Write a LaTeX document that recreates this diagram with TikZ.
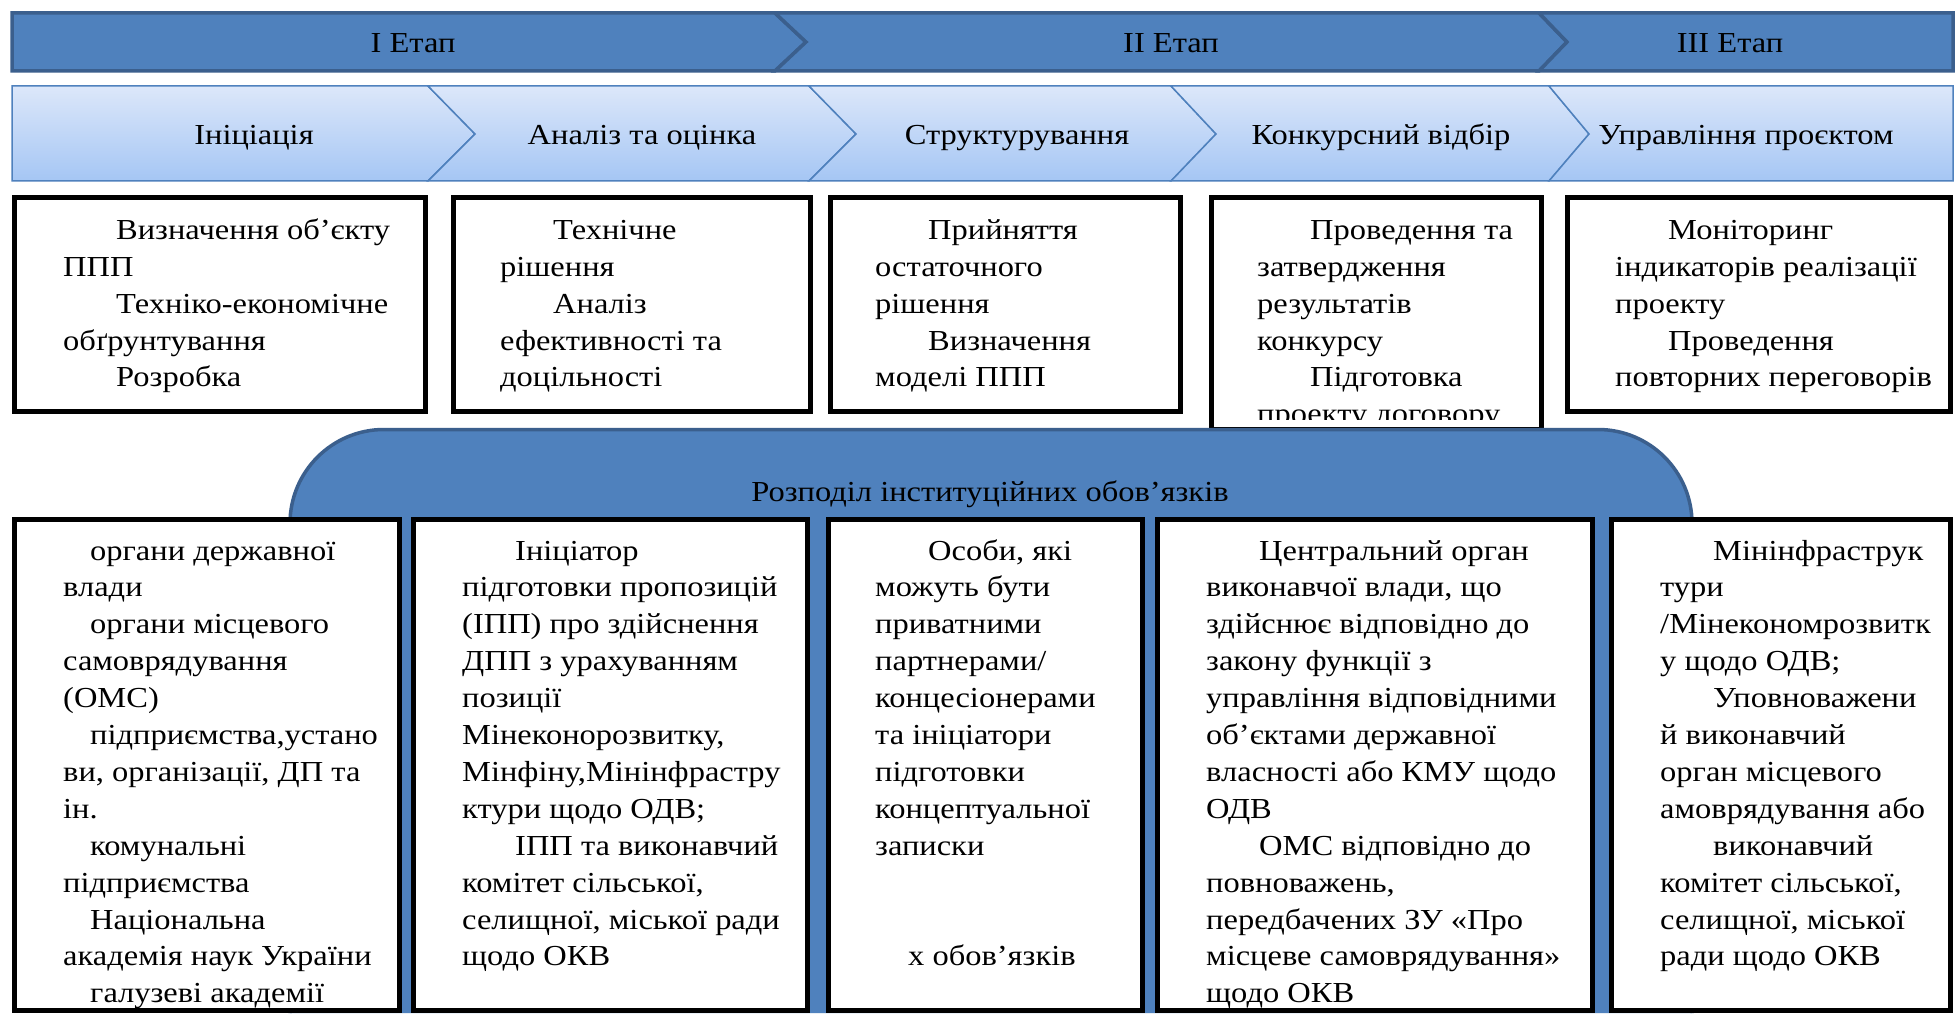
\documentclass[tikz,border=0pt]{standalone}
\usepackage{fontspec}
\setmainfont{Liberation Serif}[FakeStretch=1.12]
\definecolor{bandblue}{HTML}{4F81BD}
\definecolor{bandedge}{HTML}{3B5F8D}
\definecolor{lighttop}{HTML}{DCE7FA}
\definecolor{lightbot}{HTML}{A5C6F4}
\newcommand\Ind{\hspace*{53pt}}
\begin{document}
\begin{tikzpicture}[x=1pt,y=-1pt,
  darkseg/.style={fill=bandblue, draw=bandedge, line width=3.5pt, line join=miter},
  lightseg/.style={top color=lighttop, bottom color=lightbot, draw=bandblue, line width=1.5pt},
  boxst/.style={draw=black, line width=5pt, fill=white},
  lbl/.style={font=\fontsize{29}{36}\selectfont, inner sep=0pt, anchor=base},
  txt/.style={font=\fontsize{29}{36.7}\selectfont, inner sep=0pt, anchor=base west},
  txtb/.style={font=\fontsize{29}{36.9}\selectfont, inner sep=0pt, anchor=base west}]
\useasboundingbox (0,0) rectangle (1959,1016);
\fill[white] (0,0) rectangle (1959,1016);

% ---- top stage band
\path[darkseg] (12,13) -- (775,13) -- (806,42) -- (775,71) -- (12,71) -- cycle;
\path[darkseg] (775,13) -- (1539,13) -- (1567,42) -- (1539,71) -- (775,71) -- (806,42) -- cycle;
\path[darkseg] (1539,13) -- (1953,13) -- (1953,71) -- (1539,71) -- (1567,42) -- cycle;
\node[lbl] (e1) at (413,53) {I Етап};
\node[lbl] (e2) at (1171,53) {II Етап};
\node[lbl] (e3) at (1730,53) {III Етап};

% ---- phase chevrons
\path[lightseg] (12,86) -- (428,86) -- (475,134) -- (428,181) -- (12,181) -- cycle;
\path[lightseg] (428,86) -- (809,86) -- (856,134) -- (809,181) -- (428,181) -- (475,134) -- cycle;
\path[lightseg] (809,86) -- (1171,86) -- (1216,134) -- (1171,181) -- (809,181) -- (856,134) -- cycle;
\path[lightseg] (1171,86) -- (1549,86) -- (1589,134) -- (1549,181) -- (1171,181) -- (1216,134) -- cycle;
\path[lightseg] (1549,86) -- (1953,86) -- (1953,181) -- (1549,181) -- (1589,134) -- cycle;
\node[lbl] (p1) at (254,145) {Ініціація};
\node[lbl] (p2) at (642,145) {Аналіз та оцінка};
\node[lbl] (p3) at (1017,145) {Структурування};
\node[lbl] (p4) at (1381,145) {Конкурсний відбір};
\node[lbl] (p5) at (1746,145) {Управління проєктом};

% ---- top row boxes
\draw[boxst] (14.5,197.5) rectangle (425.5,411.5);
\draw[boxst] (453.5,197.5) rectangle (810.5,411.5);
\draw[boxst] (830.5,197.5) rectangle (1180.5,411.5);
\draw[boxst] (1211.5,197.5) rectangle (1541.5,429.5);
\draw[boxst] (1567.5,197.5) rectangle (1950.5,411.5);

\node[txt] (tA) at (63,240) {\parbox[t]{360pt}{\Ind Визначення об’єкту\\ППП\\\Ind Техніко-економічне\\обґрунтування\\\Ind Розробка}};
\node[txt] (tB) at (500,240) {\parbox[t]{300pt}{\Ind Технічне\\рішення\\\Ind Аналіз\\ефективності та\\доцільності}};
\node[txt] (tC) at (875,240) {\parbox[t]{300pt}{\Ind Прийняття\\остаточного\\рішення\\\Ind Визначення\\моделі ППП}};
\begin{scope}
\clip (1214,200) rectangle (1539,419);
\node[txt] (tD) at (1257,240) {\parbox[t]{300pt}{\Ind Проведення та\\затвердження\\результатів\\конкурсу\\\Ind Підготовка\\проекту договору}};
\end{scope}
\node[txt] (tE) at (1615,240) {\parbox[t]{340pt}{\Ind Моніторинг\\індикаторів реалізації\\проекту\\\Ind Проведення\\повторних переговорів}};

% ---- institutional responsibilities
\path[fill=bandblue, draw=bandedge, line width=3.5pt, rounded corners=94pt]
  (290,1013) -- (290,429.5) -- (1692,429.5) -- (1692,1013);
\node[lbl] (resp) at (990,501) {Розподіл інституційних обов’язків};

% ---- bottom row boxes
\draw[boxst] (14.5,519.5) rectangle (399.5,1010.5);
\draw[boxst] (413.5,519.5) rectangle (807.5,1010.5);
\draw[boxst] (828.5,519.5) rectangle (1142.5,1010.5);
\draw[boxst] (1157.5,519.5) rectangle (1592.5,1010.5);
\draw[boxst] (1611.5,519.5) rectangle (1950.5,1010.5);

\begin{scope}
\clip (17,522) rectangle (1948,1007);
\node[txtb] (tF) at (63,560) {\parbox[t]{330pt}{\hspace*{27pt}органи державної\\влади\\\hspace*{27pt}органи місцевого\\самоврядування\\(ОМС)\\\hspace*{27pt}підприємства,устано\\ви, організації, ДП та\\ін.\\\hspace*{27pt}комунальні\\підприємства\\\hspace*{27pt}Національна\\академія наук України\\\hspace*{27pt}галузеві академії}};
\node[txtb] (tG) at (462,560) {\parbox[t]{340pt}{\Ind Ініціатор\\підготовки пропозицій\\(ІПП) про здійснення\\ДПП з урахуванням\\позиції\\Мінеконорозвитку,\\Мінфіну,Мінінфрастру\\ктури щодо ОДВ;\\\Ind ІПП та виконавчий\\комітет сільської,\\селищної, міської ради\\щодо ОКВ}};
\node[txtb] (tH) at (875,560) {\parbox[t]{260pt}{\Ind Особи, які\\можуть бути\\приватними\\партнерами/\\концесіонерами\\та ініціатори\\підготовки\\концептуальної\\записки\\ \\ \\\hspace*{33pt}х обов’язків}};
\node[txtb] (tI) at (1206,560) {\parbox[t]{380pt}{\Ind Центральний орган\\виконавчої влади, що\\здійснює відповідно до\\закону функції з\\управління відповідними\\об’єктами державної\\власності або КМУ щодо\\ОДВ\\\Ind ОМС відповідно до\\повноважень,\\передбачених ЗУ «Про\\місцеве самоврядування»\\щодо ОКВ}};
\node[txtb] (tJ) at (1660,560) {\parbox[t]{290pt}{\Ind Мінінфраструк\\тури\\/Мінекономрозвитк\\у щодо ОДВ;\\\Ind Уповноважени\\й виконавчий\\орган місцевого\\амоврядування або\\\Ind виконавчий\\комітет сільської,\\селищної, міської\\ради щодо ОКВ}};
\end{scope}
\end{tikzpicture}
\end{document}
